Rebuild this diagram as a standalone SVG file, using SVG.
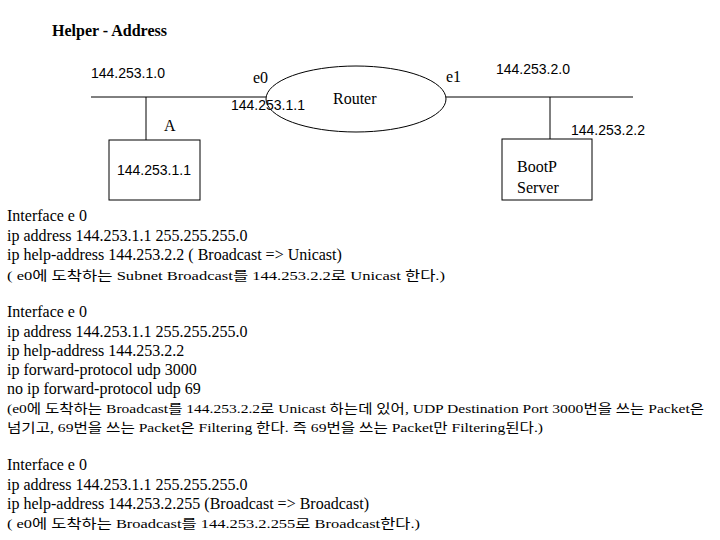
<svg xmlns="http://www.w3.org/2000/svg" width="720" height="540" viewBox="0 0 720 540">
<style>
.l{stroke:#000;stroke-width:1;fill:none}
.s{font-family:"Liberation Sans",sans-serif;font-size:14px}
.t{font-family:"Liberation Serif","Noto Sans CJK KR",serif;font-size:16px}
.k{font-family:"Liberation Serif","Noto Sans CJK KR",serif;font-size:13px}
</style>
<rect width="720" height="540" fill="#fff"/>
<text x="52" y="36" class="t" font-weight="bold" font-size="16.5">Helper - Address</text>
<g id="connectors">
<line class="l" x1="91" y1="97" x2="266" y2="97"/>
<line class="l" x1="446" y1="97" x2="633" y2="97"/>
<line class="l" x1="146" y1="97" x2="146" y2="140"/>
<line class="l" x1="550" y1="97" x2="550" y2="139"/>
</g>
<g id="router"><ellipse class="l" cx="356" cy="99" rx="90" ry="33"/><text x="333" y="104" class="t">Router</text></g>
<g id="hostA"><rect class="l" x="109" y="140" width="91" height="60"/><text x="117" y="175" class="s">144.253.1.1</text><text x="164" y="131" class="t">A</text></g>
<g id="bootp"><rect class="l" x="502" y="139" width="90" height="61"/><text x="517" y="172" class="t" font-size="15">BootP</text><text x="517" y="193" class="t" font-size="15">Server</text></g>
<g id="labels">
<text x="91" y="78" class="s">144.253.1.0</text>
<text x="253" y="83" class="t" font-size="15">e0</text>
<text x="231" y="110" class="s">144.253.1.1</text>
<text x="446" y="82" class="t" font-size="15">e1</text>
<text x="496" y="74" class="s">144.253.2.0</text>
<text x="571" y="135" class="s">144.253.2.2</text>
</g>
<g id="text">
<text x="7" y="221" class="t">Interface e 0</text>
<text x="7" y="241" class="t">ip address 144.253.1.1 255.255.255.0</text>
<text x="7" y="260" class="t">ip help-address 144.253.2.2 ( Broadcast =&gt; Unicast)</text>
<text x="7" y="280" class="k" textLength="438" lengthAdjust="spacingAndGlyphs">( e0에 도착하는 Subnet Broadcast를 144.253.2.2로 Unicast 한다.)</text>
<text x="7" y="317" class="t">Interface e 0</text>
<text x="7" y="337" class="t">ip address 144.253.1.1 255.255.255.0</text>
<text x="7" y="356" class="t">ip help-address 144.253.2.2</text>
<text x="7" y="375" class="t">ip forward-protocol udp 3000</text>
<text x="7" y="394" class="t">no ip forward-protocol udp 69</text>
<text x="7" y="413" class="k" textLength="697" lengthAdjust="spacingAndGlyphs">(e0에 도착하는 Broadcast를 144.253.2.2로 Unicast 하는데 있어, UDP Destination Port 3000번을 쓰는 Packet은</text>
<text x="7" y="432" class="k" textLength="536" lengthAdjust="spacingAndGlyphs">넘기고, 69번을 쓰는 Packet은 Filtering 한다. 즉 69번을 쓰는 Packet만 Filtering된다.)</text>
<text x="7" y="470" class="t">Interface e 0</text>
<text x="7" y="490" class="t">ip address 144.253.1.1 255.255.255.0</text>
<text x="7" y="509" class="t">ip help-address 144.253.2.255 (Broadcast =&gt; Broadcast)</text>
<text x="7" y="528" class="k" textLength="413" lengthAdjust="spacingAndGlyphs">( e0에 도착하는 Broadcast를 144.253.2.255로 Broadcast한다.)</text>
</g>
</svg>
